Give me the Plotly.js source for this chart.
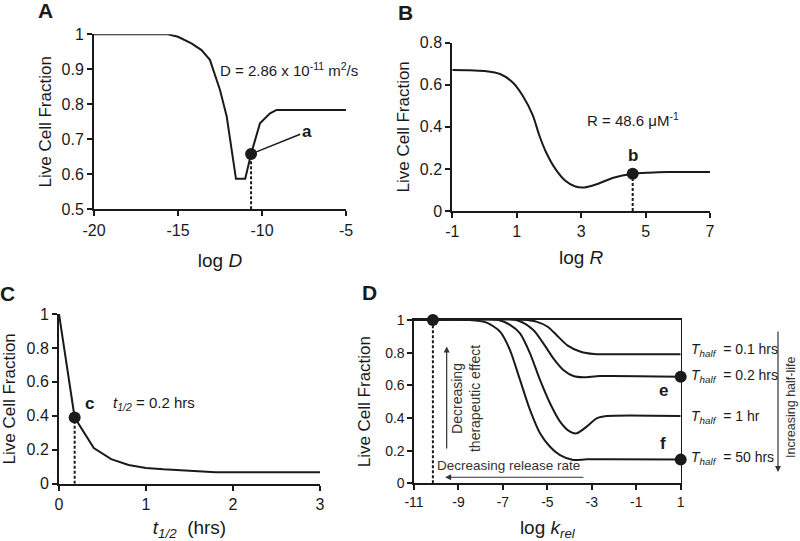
<!DOCTYPE html>
<html>
<head>
<meta charset="utf-8">
<script src="https://cdn.plot.ly/plotly-3.0.1.min.js"></script>
<style>
  html, body { margin: 0; padding: 0; background: #fff; }
  #chart { width: 800px; height: 541px; }
</style>
</head>
<body>
<div id="chart"></div>
<script>
// Panel A: live cell fraction vs log D
const aLogD = [-20, -15.6, -15, -14.2, -13.6, -13.1, -12.5, -12.1, -11.55, -11.0, -10.65, -10.12, -9.52, -9.13, -8.5, -5];
const aLive = [1, 1, 0.993, 0.974, 0.955, 0.927, 0.841, 0.765, 0.587, 0.587, 0.658, 0.746, 0.774, 0.784, 0.784, 0.784];
const aMarkX = [-10.65];
const aMarkY = [0.658];
const aTicks = [-20, -15, -10, -5];
const aTickText = ["-20", "-15", "-10", "-5"];

// Panel B: live cell fraction vs log R
const bLogR = [-1, -0.5, 0, 0.5, 0.9, 1.2, 1.5, 1.7, 1.9, 2.2, 2.5, 2.8, 3.1, 3.5, 4, 4.6, 5.1, 5.7, 7];
const bLive = [0.67, 0.669, 0.665, 0.65, 0.607, 0.544, 0.455, 0.36, 0.283, 0.2, 0.145, 0.118, 0.112, 0.128, 0.158, 0.177, 0.182, 0.185, 0.185];
const bMarkX = [4.6];
const bMarkY = [0.177];
const bTicks = [-1, 1, 3, 5, 7];
const bTickText = ["-1", "1", "3", "5", "7"];

// Panel C: live cell fraction vs half-life
const cHalf = [0, 0.18, 0.4, 0.6, 0.8, 1.0, 1.2, 1.4, 1.6, 1.8, 3];
const cLive = [1, 0.39, 0.21, 0.145, 0.11, 0.093, 0.085, 0.08, 0.075, 0.068, 0.068];
const cMarkX = [0.18];
const cMarkY = [0.39];

// Panel D: live cell fraction vs log k_rel, one curve per T_half
const dK01 = [-11, -5.9, -5.5, -5, -4.6, -4.1, -3.5, -2.9, -2, 1];
const dLive01 = [1, 1, 0.99, 0.96, 0.91, 0.845, 0.806, 0.792, 0.79, 0.79];
const dK02 = [-11, -6.4, -5.63, -5.18, -4.73, -4.28, -3.83, -3.38, -2.63, 1];
const dLive02 = [1, 1, 0.939, 0.857, 0.765, 0.694, 0.657, 0.649, 0.657, 0.653];
const dK1 = [-11, -7.2, -6.68, -6.23, -5.78, -5.33, -4.88, -4.43, -3.98, -3.68, -3.23, -2.78, -2.33, 1];
const dLive1 = [1, 1, 0.97, 0.918, 0.796, 0.633, 0.49, 0.378, 0.316, 0.306, 0.347, 0.398, 0.412, 0.412];
const dK50 = [-11, -8.5, -7.73, -7.13, -6.68, -6.23, -5.78, -5.33, -4.88, -4.43, -3.83, -3.23, -2.33, 1];
const dLive50 = [1, 1, 0.984, 0.929, 0.816, 0.633, 0.449, 0.306, 0.224, 0.173, 0.143, 0.147, 0.147, 0.145];
const dMarkX = [-10.15, 1, 1];
const dMarkY = [1, 0.653, 0.145];
const dTicks = [-11, -9, -7, -5, -3, -1, 1];
const dTickText = ["-11", "-9", "-7", "-5", "-3", "-1", "1"];
const dLabels = ["<i>T<sub>half</sub></i>  = 0.1 hrs", "<i>T<sub>half</sub></i>  = 0.2 hrs", "<i>T<sub>half</sub></i>  = 1 hr", "<i>T<sub>half</sub></i>  = 50 hrs"];
const dLabelY = [0.816, 0.657, 0.408, 0.153];

const FONT = "Liberation Sans, Arial, sans-serif";
const INK = "#1a1a1a";

function px(x) { return x / 800; }
function py(y) { return 1 - y / 541; }

function curve(x, y, xa, ya, spline) {
  return {
    x, y, xaxis: xa, yaxis: ya, mode: "lines", hoverinfo: "skip",
    line: { color: INK, width: 2, shape: spline ? "spline" : "linear", smoothing: 0.7 },
    cliponaxis: false
  };
}
function dots(x, y, xa, ya) {
  return {
    x, y, xaxis: xa, yaxis: ya, mode: "markers", hoverinfo: "skip",
    marker: { color: INK, size: 12 }, cliponaxis: false
  };
}
function dropLine(x, y, base, xa, ya) {
  return {
    x: [x, x], y: [base, y], xaxis: xa, yaxis: ya, mode: "lines", hoverinfo: "skip",
    line: { color: INK, width: 2, dash: "3px,2px" }
  };
}

const traces = [
  curve(aLogD, aLive, "x", "y", false),
  dropLine(aMarkX[0], aMarkY[0], 0.5, "x", "y"),
  dots(aMarkX, aMarkY, "x", "y"),
  curve(bLogR, bLive, "x2", "y2", true),
  dropLine(bMarkX[0], bMarkY[0], 0, "x2", "y2"),
  dots(bMarkX, bMarkY, "x2", "y2"),
  curve(cHalf, cLive, "x3", "y3", false),
  dropLine(cMarkX[0], cMarkY[0], 0, "x3", "y3"),
  dots(cMarkX, cMarkY, "x3", "y3"),
  curve(dK01, dLive01, "x4", "y4", true),
  curve(dK02, dLive02, "x4", "y4", true),
  curve(dK1, dLive1, "x4", "y4", true),
  curve(dK50, dLive50, "x4", "y4", true),
  dropLine(dMarkX[0], dMarkY[0], 0, "x4", "y4"),
  dots(dMarkX, dMarkY, "x4", "y4")
];

function axisBase(extra) {
  return Object.assign({
    showgrid: false, zeroline: false, showline: true, linecolor: INK, linewidth: 2,
    ticks: "outside", ticklen: 5, tickwidth: 2, tickcolor: INK,
    tickfont: { family: FONT, size: 16, color: INK },
    fixedrange: true
  }, extra);
}
function ytitle(standoff) {
  return { text: "Live Cell Fraction", font: { family: FONT, size: 17, color: INK }, standoff };
}
function xtitle(text, standoff) {
  return { text, font: { family: FONT, size: 19, color: INK }, standoff };
}

const annotations = [
  // panel letters
  { text: "<b>A</b>", x: px(45), y: py(10) },
  { text: "<b>B</b>", x: px(406), y: py(13) },
  { text: "<b>C</b>", x: px(7), y: py(293) },
  { text: "<b>D</b>", x: px(369), y: py(292) }
].map(a => Object.assign({ xref: "paper", yref: "paper", xanchor: "center", yanchor: "middle", showarrow: false, font: { family: FONT, size: 21, color: INK } }, a));

annotations.push(
  { xref: "x", yref: "y", x: -8.4, y: 0.898, showarrow: false, text: "D = 2.86 x 10<sup>-11</sup> m<sup>2</sup>/s", font: { family: FONT, size: 15, color: INK } },
  { xref: "x", yref: "y", x: aMarkX[0], y: aMarkY[0], axref: "x", ayref: "y", ax: -7.34, ay: 0.722, text: "<b>a</b>", showarrow: true, arrowhead: 0, arrowwidth: 1.5, arrowcolor: INK, standoff: 5, font: { family: FONT, size: 17, color: INK } },
  { xref: "x2", yref: "y2", x: 4.62, y: 0.433, showarrow: false, text: "R = 48.6 μM<sup>-1</sup>", font: { family: FONT, size: 15, color: INK } },
  { xref: "x2", yref: "y2", x: bMarkX[0], y: 0.266, showarrow: false, text: "<b>b</b>", font: { family: FONT, size: 17, color: INK } },
  { xref: "x3", yref: "y3", x: 0.35, y: 0.473, showarrow: false, text: "<b>c</b>", font: { family: FONT, size: 17, color: INK } },
  { xref: "x3", yref: "y3", x: 0.6, y: 0.473, xanchor: "left", showarrow: false, text: "<i>t<sub>1/2</sub></i> = 0.2 hrs", font: { family: FONT, size: 15, color: INK } },
  { xref: "x4", yref: "y4", x: -9.68, y: 1.127, showarrow: false, text: "<b>d</b>", font: { family: FONT, size: 17, color: INK } },
  { xref: "x4", yref: "y4", x: 0.21, y: 0.571, showarrow: false, text: "<b>e</b>", font: { family: FONT, size: 17, color: INK } },
  { xref: "x4", yref: "y4", x: 0.21, y: 0.245, showarrow: false, text: "<b>f</b>", font: { family: FONT, size: 17, color: INK } },
  // inner arrows of panel D
  { xref: "x4", yref: "y4", x: -9.53, y: 0.837, axref: "x4", ayref: "y4", ax: -9.53, ay: 0.204, text: "", showarrow: true, arrowhead: 2, arrowsize: 1, arrowwidth: 1.2, arrowcolor: "#333" },
  { xref: "x4", yref: "y4", x: -8.63, y: 0.52, showarrow: false, textangle: -90, text: "Decreasing<br>therapeutic effect", font: { family: FONT, size: 14, color: "#333" } },
  { xref: "x4", yref: "y4", x: -9.6, y: 0.037, axref: "x4", ayref: "y4", ax: -3.31, ay: 0.037, text: "", showarrow: true, arrowhead: 2, arrowsize: 1, arrowwidth: 1.2, arrowcolor: "#333" },
  { xref: "x4", yref: "y4", x: -6.76, y: 0.112, showarrow: false, text: "Decreasing release rate", font: { family: FONT, size: 13.5, color: "#333" } },
  // half-life arrow on the right
  { xref: "paper", yref: "paper", x: px(778), y: py(472), ax: 0, ay: -142, text: "", showarrow: true, arrowhead: 2, arrowsize: 1, arrowwidth: 1.2, arrowcolor: "#333" },
  { xref: "paper", yref: "paper", x: px(791), y: py(408), xanchor: "center", yanchor: "middle", showarrow: false, textangle: -90, text: "Increasing half-life", font: { family: FONT, size: 12.5, color: "#333" } }
);

dLabels.forEach((t, i) => {
  annotations.push({ xref: "paper", yref: "y4", x: px(689), y: dLabelY[i], xanchor: "left", showarrow: false, text: t, font: { family: FONT, size: 14, color: INK } });
});

const layout = {
  width: 800, height: 541,
  margin: { l: 0, r: 0, t: 0, b: 0 },
  paper_bgcolor: "#fff", plot_bgcolor: "#fff",
  showlegend: false,
  font: { family: FONT, color: INK },
  xaxis: axisBase({ domain: [px(94), px(346)], range: [-20, -5], tickvals: aTicks, ticktext: aTickText, anchor: "y",
    title: xtitle("log <i>D</i>", 16) }),
  yaxis: axisBase({ domain: [py(209.3), py(34.3)], range: [0.5, 1], dtick: 0.1, anchor: "x", title: ytitle(6) }),
  xaxis2: axisBase({ domain: [px(452.3), px(710)], range: [-1, 7], tickvals: bTicks, ticktext: bTickText, anchor: "y2",
    title: xtitle("log <i>R</i>", 11) }),
  yaxis2: axisBase({ domain: [py(211), py(42.7)], range: [0, 0.8], dtick: 0.2, anchor: "x2", title: ytitle(6) }),
  xaxis3: axisBase({ domain: [px(59), px(320)], range: [0, 3], dtick: 1, anchor: "y3",
    title: xtitle("<i>t<sub>1/2</sub></i>  (hrs)", 14) }),
  yaxis3: axisBase({ domain: [py(483.7), py(314)], range: [0, 1], dtick: 0.2, anchor: "x3", title: ytitle(10) }),
  xaxis4: axisBase({ domain: [px(414), px(680.7)], range: [-11, 1], tickvals: dTicks, ticktext: dTickText, anchor: "y4", mirror: true,
    tickfont: { family: FONT, size: 14, color: INK }, linewidth: 1.6,
    title: xtitle("log <i>k<sub>rel</sub></i>", 13) }),
  yaxis4: axisBase({ domain: [py(483.3), py(320)], range: [0, 1], dtick: 0.2, anchor: "x4", mirror: true,
    tickfont: { family: FONT, size: 14, color: INK }, linewidth: 1.6, title: ytitle(10) }),
  annotations
};

Plotly.newPlot("chart", traces, layout, { displayModeBar: false, staticPlot: true });
</script>
</body>
</html>
